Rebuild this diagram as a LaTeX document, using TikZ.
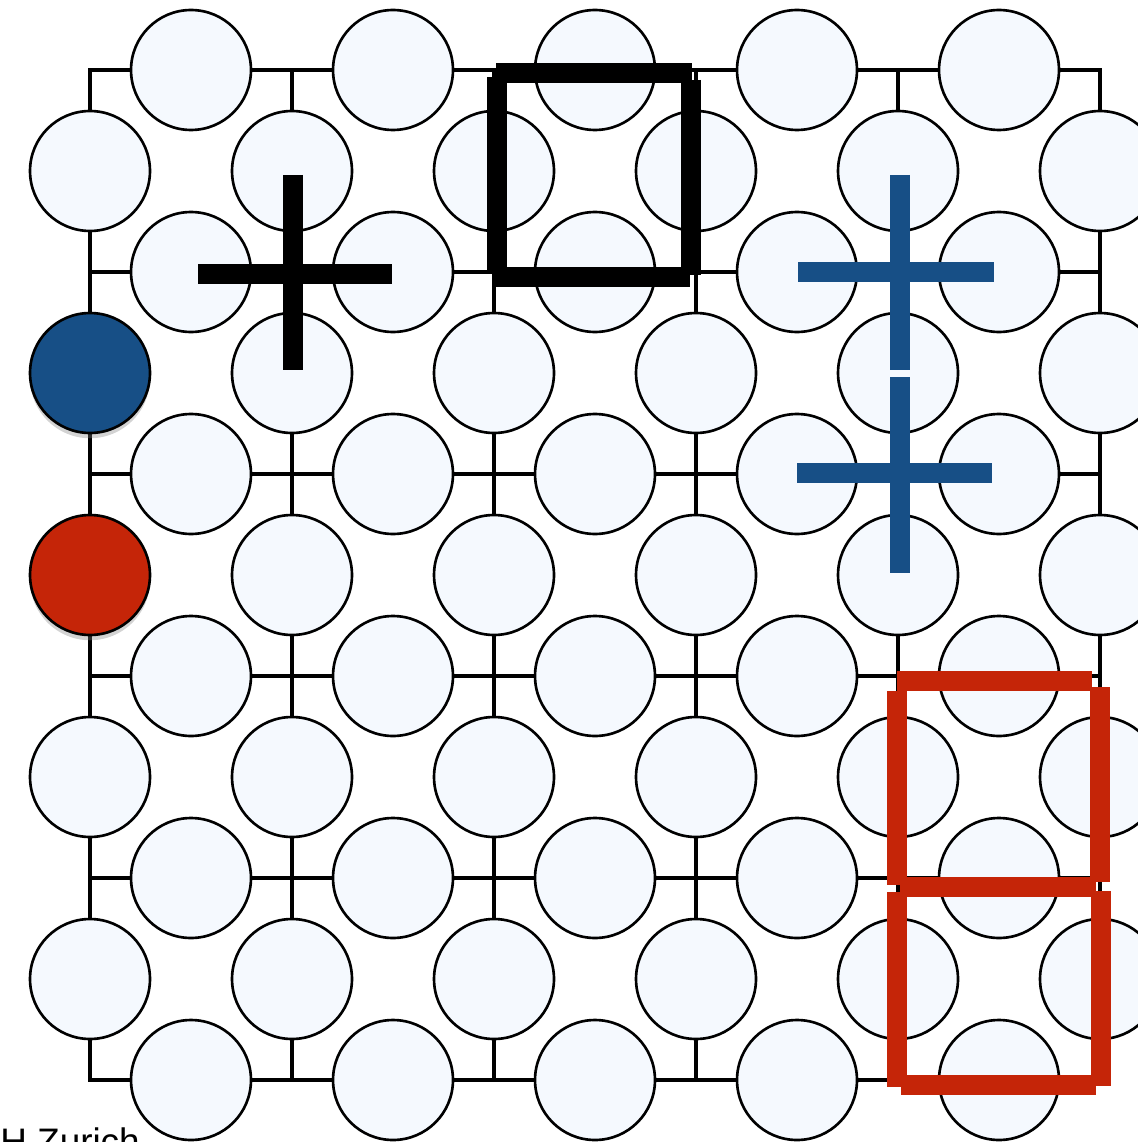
\documentclass[tikz,border=0pt]{standalone}
\usepackage{fontspec}
\setmainfont{Liberation Sans}
\usepackage{xcolor}
\usetikzlibrary{shadows}
\definecolor{qfill}{HTML}{F5F9FE}
\definecolor{xblue}{HTML}{174F86}
\definecolor{zred}{HTML}{C52508}
\begin{document}
\begin{tikzpicture}[
  x=0.02cm, y=-0.02cm,
  grid/.style={draw,line width=1.8pt,line cap=rect},
  qubit/.style={circle,draw,line width=1.5pt,fill=qfill,minimum size=2.4cm,inner sep=0pt},
  errq/.style={qubit,drop shadow={shadow xshift=0pt,shadow yshift=-3pt,opacity=0.35}},
  bar/.style={line width=0.41cm},
  xop/.style={bar,draw=xblue},
  zop/.style={bar,draw=zred}
]
\useasboundingbox (0,0) rectangle (1138,1142);
\clip (0,0) rectangle (1138,1142);
\foreach \i in {0,...,5}
  \foreach \j in {0,...,5}
    \coordinate (p-\i-\j) at (90+202*\i, 70+202*\j);
\foreach \k in {0,...,5} {
  \draw[grid] (p-0-\k) -- (p-5-\k);
  \draw[grid] (p-\k-0) -- (p-\k-5);
}
\foreach \i in {0,...,4}
  \foreach \j in {0,...,5}
    \node[qubit] (h-\i-\j) at (191+202*\i, 70+202*\j) {};
\foreach \i in {1,...,5}
  \foreach \j in {0,...,4}
    \node[qubit] (v-\i-\j) at (90+202*\i, 171+202*\j) {};
\foreach \j in {0,3,4}
  \node[qubit] (v-0-\j) at (90, 171+202*\j) {};
\node[errq,fill=xblue] (v-0-1) at (90,373) {};
\node[errq,fill=zred] (v-0-2) at (90,575) {};
\draw[bar] (496,73) -- (692,73);
\draw[bar] (497,77) -- (497,272);
\draw[bar] (691,80) -- (691,275);
\draw[bar] (492,277) -- (690,277);
\draw[bar] (198,274) -- (392,274);
\draw[bar] (293,175) -- (293,370);
\draw[xop] (900,175) -- (900,370);
\draw[xop] (798,272) -- (994,272);
\draw[xop] (900,377) -- (900,573);
\draw[xop] (797,473) -- (992,473);
\draw[zop] (897,681) -- (1092,681);
\draw[zop] (897,691) -- (897,885);
\draw[zop] (1100,687) -- (1100,882);
\draw[zop] (900,887) -- (1096,887);
\draw[zop] (897,892) -- (897,1087);
\draw[zop] (1101,891) -- (1101,1086);
\draw[zop] (901,1085) -- (1096,1085);
\node[anchor=base west,inner sep=0pt,font=\fontsize{21}{24}\selectfont] (eth) at (0,1154) {H Zurich};
\end{tikzpicture}
\end{document}
